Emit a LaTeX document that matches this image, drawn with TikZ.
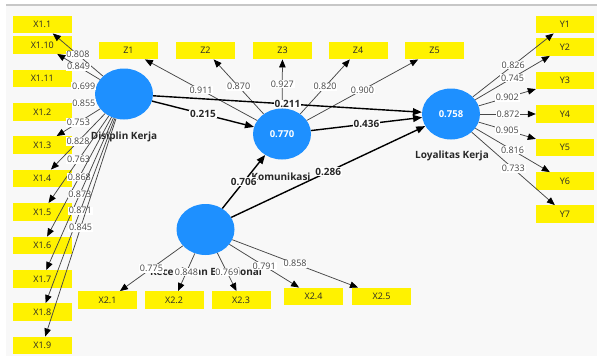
\documentclass[tikz,border=0pt]{standalone}
\usepackage{fontspec}
\setmainfont{Open Sans}
\usetikzlibrary{shapes.geometric,arrows.meta}
\definecolor{cblue}{RGB}{30,144,255}
\definecolor{bgc}{RGB}{248,248,248}
\definecolor{lnc}{RGB}{70,70,70}
\definecolor{txc}{RGB}{40,40,40}
\begin{document}
\begin{tikzpicture}[x=1pt,y=-1pt,
 ind/.style={fill=yellow, minimum width=59pt, minimum height=17.5pt, inner sep=0pt, font=\fontsize{9}{10}\selectfont, text=txc},
 lat/.style={ellipse, fill=cblue, minimum width=58pt, minimum height=51pt, inner sep=0pt, text=white, font=\bfseries\fontsize{9.5}{10}\selectfont},
 latname/.style={font=\bfseries\fontsize{10}{11}\selectfont, text=txc, inner sep=0pt},
 load/.style={draw=lnc, line width=0.75pt, -{Triangle[length=8pt,width=6.5pt,black]}},
 spath/.style={draw=black, line width=1.4pt, -{Triangle[length=9pt,width=7pt]}},
 lv/.style={fill=white, inner sep=0.8pt, font=\fontsize{9}{10}\selectfont, text=lnc},
 pv/.style={fill=white, inner sep=0.8pt, font=\bfseries\fontsize{10}{11}\selectfont, text=txc},
]
\useasboundingbox (0,0) rectangle (597,356);
\fill[white] (0,0) rectangle (597,356);
\fill[bgc] (6,6) rectangle (597,356);
\draw[black!22, line width=1.3pt] (6,5) -- (597,5);

% latent variables
\node[lat] (dk) at (124,94) {};
\node[lat] (kom) at (282,134) {0.770};
\node[lat] (loy) at (451,114) {0.758};
\node[lat] (ke) at (205.5,229.5) {};

% latent names
\node[latname] (ndk) at (124,137) {Disiplin Kerja};
\node[latname] (nkom) at (281,177) {Komunikasi};
\node[latname] (nloy) at (452,156) {Loyalitas Kerja};
\node[latname] (nke) at (206,272) {Kecerdasan Emosional};

% X1 indicators
\node[ind] (x11) at (42.3,24.5) {X1.1};
\node[ind] (x110) at (42.3,45) {X1.10};
\node[ind] (x111) at (42.3,78.5) {X1.11};
\node[ind] (x12) at (42.3,112) {X1.2};
\node[ind] (x13) at (42.3,145) {X1.3};
\node[ind] (x14) at (42.3,178.5) {X1.4};
\node[ind] (x15) at (42.3,212) {X1.5};
\node[ind] (x16) at (42.3,245.5) {X1.6};
\node[ind] (x17) at (42.3,279) {X1.7};
\node[ind] (x18) at (42.3,312) {X1.8};
\node[ind] (x19) at (42.3,345.5) {X1.9};

% Z indicators
\node[ind] (z1) at (128.5,50.5) {Z1};
\node[ind] (z2) at (205.5,50.5) {Z2};
\node[ind] (z3) at (282.5,50.5) {Z3};
\node[ind] (z4) at (358,50.5) {Z4};
\node[ind] (z5) at (434.5,50.5) {Z5};

% Y indicators
\node[ind, minimum width=58pt] (y1) at (565,24.5) {Y1};
\node[ind, minimum width=58pt] (y2) at (565,47) {Y2};
\node[ind, minimum width=58pt] (y3) at (565,80.5) {Y3};
\node[ind, minimum width=58pt] (y4) at (565,114) {Y4};
\node[ind, minimum width=58pt] (y5) at (565,147.5) {Y5};
\node[ind, minimum width=58pt] (y6) at (565,181) {Y6};
\node[ind, minimum width=58pt] (y7) at (565,214) {Y7};

% X2 indicators
\node[ind] (x21) at (107.5,300) {X2.1};
\node[ind] (x22) at (174,300) {X2.2};
\node[ind] (x23) at (241,300) {X2.3};
\node[ind] (x24) at (313.5,296.5) {X2.4};
\node[ind] (x25) at (381.5,296.5) {X2.5};

% outer loadings Disiplin Kerja
\draw[load] (dk) -- node[lv]{0.808} (x11);
\draw[load] (dk) -- node[lv]{0.849} (x110);
\draw[load] (dk) -- node[lv]{0.699} (x111);
\draw[load] (dk) -- node[lv]{0.855} (x12);
\draw[load] (dk) -- node[lv]{0.753} (x13);
\draw[load] (dk) -- node[lv]{0.828} (x14);
\draw[load] (dk) -- node[lv]{0.763} (x15);
\draw[load] (dk) -- node[lv]{0.868} (x16);
\draw[load] (dk) -- node[lv]{0.873} (x17);
\draw[load] (dk) -- node[lv]{0.871} (x18);
\draw[load] (dk) -- node[lv]{0.845} (x19);

% outer loadings Komunikasi
\draw[load] (kom) -- node[lv]{0.911} (z1);
\draw[load] (kom) -- node[lv]{0.870} (z2);
\draw[load] (kom) -- node[lv]{0.927} (z3);
\draw[load] (kom) -- node[lv]{0.820} (z4);
\draw[load] (kom) -- node[lv]{0.900} (z5);

% outer loadings Loyalitas Kerja
\draw[load] (loy) -- node[lv]{0.826} (y1);
\draw[load] (loy) -- node[lv]{0.745} (y2);
\draw[load] (loy) -- node[lv]{0.902} (y3);
\draw[load] (loy) -- node[lv]{0.872} (y4);
\draw[load] (loy) -- node[lv]{0.905} (y5);
\draw[load] (loy) -- node[lv]{0.816} (y6);
\draw[load] (loy) -- node[lv]{0.733} (y7);

% outer loadings Kecerdasan Emosional
\draw[load] (ke) -- node[lv]{0.775} (x21);
\draw[load] (ke) -- node[lv]{0.848} (x22);
\draw[load] (ke) -- node[lv]{0.769} (x23);
\draw[load] (ke) -- node[lv]{0.791} (x24);
\draw[load] (ke) -- node[lv]{0.858} (x25);

% structural paths
\draw[spath] (dk) -- node[pv]{0.215} (kom);
\draw[spath] (dk) -- node[pv]{0.211} (loy);
\draw[spath] (kom) -- node[pv]{0.436} (loy);
\draw[spath] (ke) -- node[pv]{0.706} (kom);
\draw[spath] (ke) -- node[pv]{0.286} (loy);
\end{tikzpicture}
\end{document}
